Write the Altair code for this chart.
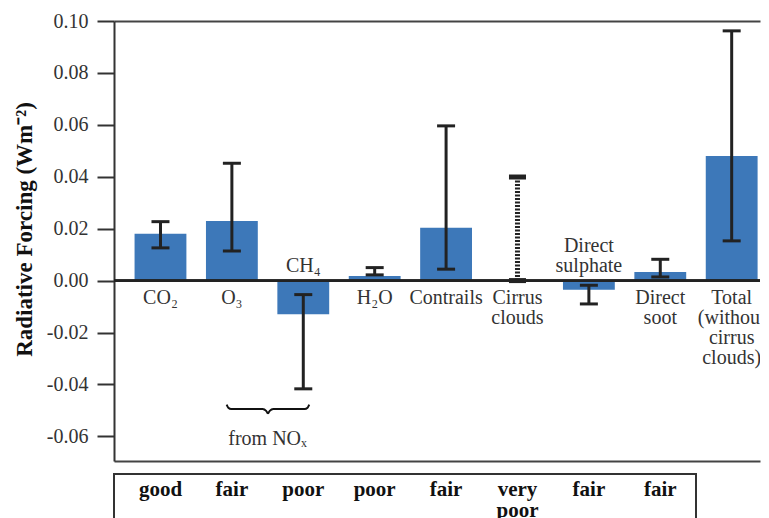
import altair as alt
import pandas as pd

# ---- data ----
categories = ["CO2", "O3", "CH4", "H2O", "Contrails", "Cirrus clouds",
              "Direct sulphate", "Direct soot", "Total"]
labels = ["CO₂", "O₃", "CH₄", "H₂O", "Contrails", "Cirrus\nclouds",
          "Direct\nsulphate", "Direct\nsoot", "Total\n(without\ncirrus\nclouds)"]
label_above = [False, False, True, False, False, False, True, False, False]
forcing = [0.018, 0.023, -0.013, 0.0018, 0.0204, None, -0.0035, 0.0033, 0.048]
err_low = [0.0126, 0.0114, -0.0417, 0.0022, 0.0044, 0.0, -0.009, 0.0014, 0.0153]
err_high = [0.0227, 0.0452, -0.0054, 0.005, 0.0596, 0.0399, -0.0018, 0.0082, 0.0962]
err_dotted = [False, False, False, False, False, True, False, False, False]
quality = ["good", "fair", "poor", "poor", "fair", "very\npoor", "fair", "fair"]
y_ticks = [-0.06, -0.04, -0.02, 0.0, 0.02, 0.04, 0.06, 0.08, 0.10]

note_text = ["from NOₓ"]
note_x = [1.5]
note_y = [-0.061]
brace_x = [0.927, 0.95, 0.99, 1.43, 1.48, 1.505, 1.505, 1.53, 1.58, 2.02, 2.06, 2.083]
brace_y = [-0.0478, -0.0490, -0.0495, -0.0495, -0.0502, -0.0513,
           -0.0513, -0.0502, -0.0495, -0.0495, -0.0490, -0.0478]
brace_side = ["L"] * 6 + ["R"] * 6

SERIF = "Liberation Serif"
BAR = "#3d78b9"
INK = "#222222"
FRAME = "#444444"

idx = list(range(len(categories)))
df = pd.DataFrame({"cat": categories, "idx": idx, "label": labels,
                   "above": label_above, "forcing": forcing,
                   "lo": err_low, "hi": err_high, "dotted": err_dotted})
bars_df = df[df["forcing"].notna()]
caps_df = pd.concat([
    df[["idx", "dotted"]].assign(v=df["lo"]),
    df[["idx", "dotted"]].assign(v=df["hi"]),
])
brace_df = pd.DataFrame({"bx": brace_x, "by": brace_y, "side": brace_side,
                         "ord": list(range(len(brace_x)))})
note_df = pd.DataFrame({"t": note_text, "nx": note_x, "ny": note_y})
qual_df = pd.DataFrame({"q": quality, "qidx": list(range(len(quality)))})

W = 646
xs = alt.Scale(domain=[-0.651, -0.651 + W / 71.4], nice=False, zero=False)
ys = alt.Scale(domain=[-0.0695, 0.10], nice=False, zero=False)

yaxis = alt.Axis(
    values=y_ticks,
    labelExpr="(datum.value < -0.0001 ? '-' : '') + format(abs(datum.value), '.2f')",
    labelFont=SERIF, labelFontSize=20, labelColor="#333333", labelPadding=9,
    tickSize=17, tickColor="#333333", tickWidth=2,
    domainColor="#333333", domainWidth=2, grid=False,
    title="Radiative Forcing (Wm⁻²)", titleFont=SERIF, titleFontSize=23,
    titleFontWeight="bold", titleColor="#111111", titleAngle=270,
    titleX=-90, titleY=208, titleAlign="center", titleBaseline="middle",
)


def frame_axis(orient):
    return alt.Axis(orient=orient, labels=False, ticks=False, grid=False,
                    domain=True, domainColor=FRAME, domainWidth=2, title=None)


bars = alt.Chart(bars_df).transform_calculate(
    x0="datum.idx - 0.363", x1="datum.idx + 0.363"
).mark_bar(color=BAR).encode(
    x=alt.X("x0:Q", scale=xs, axis=frame_axis("bottom")),
    x2="x1:Q",
    y=alt.Y("forcing:Q", scale=ys, axis=yaxis),
    y2=alt.datum(0),
)

zero = alt.Chart(df).mark_rule(color=INK, strokeWidth=1.6).encode(y=alt.datum(0))

err = alt.Chart(df).transform_filter("!datum.dotted").mark_rule(
    color=INK, strokeWidth=3
).encode(x=alt.X("idx:Q", scale=xs, axis=frame_axis("top")),
         y=alt.Y("lo:Q", scale=ys), y2="hi:Q")

err_dot = alt.Chart(df).transform_filter("datum.dotted").mark_rule(
    color=INK, strokeWidth=5, strokeDash=[2.2, 1.3]
).encode(x=alt.X("idx:Q", scale=xs, axis=None), y=alt.Y("lo:Q", scale=ys), y2="hi:Q")

caps = alt.Chart(caps_df).transform_filter("!datum.dotted").mark_tick(
    color=INK, orient="horizontal", size=18, thickness=3, opacity=1
).encode(x=alt.X("idx:Q", scale=xs, axis=None), y=alt.Y("v:Q", scale=ys))

caps_dot = alt.Chart(caps_df).transform_filter("datum.dotted").mark_tick(
    color=INK, orient="horizontal", size=17, thickness=5, opacity=1
).encode(x=alt.X("idx:Q", scale=xs, axis=None), y=alt.Y("v:Q", scale=ys))

text_style = dict(font=SERIF, fontSize=20, color="#333333", align="center",
                  lineBreak="\n", lineHeight=20)

lab_below = alt.Chart(df).transform_filter("!datum.above").mark_text(
    baseline="top", dy=7, clip=True, **text_style
).encode(x=alt.X("idx:Q", scale=xs, axis=None), y=alt.datum(0), text="label:N")

lab_above1 = alt.Chart(df).transform_filter(
    "datum.above && indexof(datum.label, '\\n') < 0"
).mark_text(baseline="alphabetic", dy=-9, **text_style).encode(
    x=alt.X("idx:Q", scale=xs, axis=None), y=alt.datum(0), text="label:N")

lab_above2 = alt.Chart(df).transform_filter(
    "datum.above && indexof(datum.label, '\\n') >= 0"
).mark_text(baseline="alphabetic", dy=-29, **text_style).encode(
    x=alt.X("idx:Q", scale=xs, axis=None), y=alt.datum(0), text="label:N")

brace = alt.Chart(brace_df).mark_line(
    color="#111111", strokeWidth=2, interpolate="monotone"
).encode(x=alt.X("bx:Q", scale=xs, axis=None), y=alt.Y("by:Q", scale=ys),
         detail="side:N", order="ord:Q")

note = alt.Chart(note_df).mark_text(
    font=SERIF, fontSize=20, color="#333333", baseline="middle", align="center"
).encode(x=alt.X("nx:Q", scale=xs, axis=None), y=alt.Y("ny:Q", scale=ys), text="t:N")

main = alt.layer(bars, zero, err, err_dot, caps, caps_dot, lab_below, lab_above1,
                 lab_above2, brace, note).resolve_axis(x="independent").properties(
    width=W, height=440)

table = alt.Chart(qual_df).mark_text(
    font=SERIF, fontSize=21, fontWeight="bold", color="#111111",
    baseline="alphabetic", align="center", lineBreak="\n", lineHeight=21
).encode(
    x=alt.X("qidx:Q", scale=alt.Scale(domain=[-0.651, 7.5], nice=False, zero=False), axis=None),
    y=alt.value(22),
    text="q:N",
).properties(width=582, height=60,
             view=alt.ViewBackground(stroke="#333333", strokeWidth=2))

chart = alt.vconcat(main, table, spacing=12).resolve_scale(
    x="independent", y="independent"
).configure_view(stroke=None).properties(
    padding={"left": 5, "top": 3, "right": 0, "bottom": 0}
)

chart.save("out.html", embed_options={"renderer": "svg", "actions": False})
